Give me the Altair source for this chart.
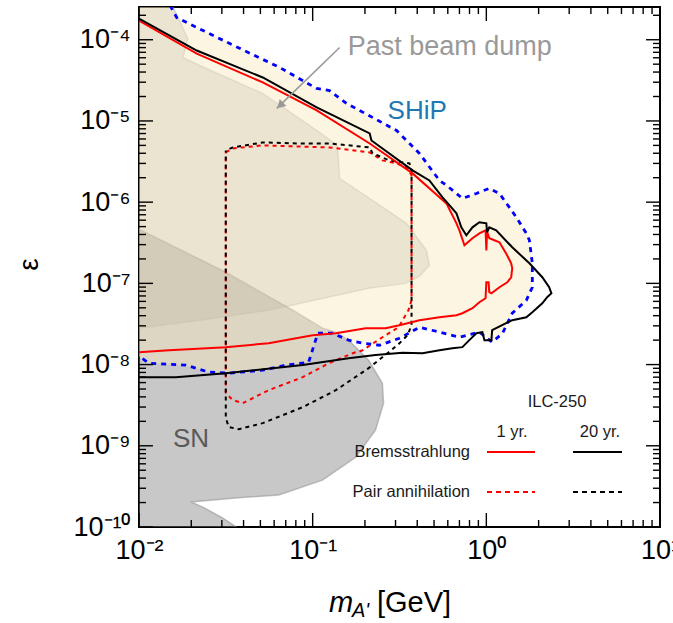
import altair as alt
import pandas as pd

FONT = "Liberation Sans"
W, H = 521, 520

X_DOMAIN = [0.01, 10.0]
Y_DOMAIN = [1e-10, 2.53e-4]

# ---------------- data (m in GeV, epsilon) ----------------
# SN 1987A excluded region (closed polygon)
sn_m = [0.0095, 0.0316, 0.0768, 0.114, 0.136, 0.161, 0.210, 0.252, 0.256, 0.230, 0.177,
        0.114, 0.0638, 0.0361, 0.0199, 0.0233, 0.0304, 0.041, 0.009]
sn_eps = [4.9e-7, 1.37e-7, 4.67e-8, 2.81e-8, 2.51e-8, 2.0e-8, 1.13e-8, 5.9e-9, 3.35e-9, 1.56e-9,
          7.26e-10, 3.78e-10, 2.48e-10, 2.28e-10, 2.03e-10, 1.76e-10, 1.29e-10, 8.4e-11, 8.4e-11]

# Past beam dump excluded region (closed polygon)
bd_m = [0.0155, 0.0191, 0.0179, 0.0224, 0.0516, 0.1055, 0.139, 0.143, 0.221, 0.347, 0.452,
        0.470, 0.412, 0.342, 0.210, 0.0558, 0.0224, 0.0100, 0.009, 0.009]
bd_eps = [2.7e-4, 1.03e-4, 6.04e-5, 4.82e-5, 2.18e-5, 7.64e-6, 5.0e-6, 1.96e-6, 1.05e-6, 5.48e-7,
          2.55e-7, 1.67e-7, 1.22e-7, 1.0e-7, 8.71e-8, 4.67e-8, 3.52e-8, 2.81e-8, 2.75e-8, 3e-4]

# SHiP sensitivity contour
ship_m = [0.0151, 0.0165, 0.0333, 0.0646, 0.1055, 0.125, 0.157, 0.304, 0.412, 0.537, 0.589,
          0.673, 0.728, 0.877, 1.04, 1.19, 1.49, 1.70, 1.77, 1.84, 1.84, 1.70, 1.41, 1.24,
          1.08, 0.912, 0.700, 0.537, 0.412, 0.316, 0.243, 0.194, 0.161, 0.130, 0.107, 0.0948,
          0.0700, 0.0516, 0.0329, 0.0253, 0.0186, 0.0114, 0.0100]
ship_eps = [2.64e-4, 1.87e-4, 8.97e-5, 4.55e-5, 2.51e-5, 2.37e-5, 1.64e-5, 7.64e-6, 3.98e-6,
            1.85e-6, 1.61e-6, 1.28e-6, 1.11e-6, 1.28e-6, 1.48e-6, 1.28e-6, 6.5e-7, 4.13e-7,
            3.39e-7, 1.77e-7, 8.96e-8, 6.19e-8, 4.29e-8, 2.43e-8, 1.89e-8, 2.51e-8, 2.17e-8,
            2.51e-8, 2.88e-8, 2.11e-8, 1.73e-8, 1.83e-8, 2.0e-8, 2.43e-8, 2.43e-8, 1.07e-8,
            9.84e-9, 8.53e-9, 7.83e-9, 8.07e-9, 9.84e-9, 1.04e-8, 1.27e-8]
# extra corner points closing the SHiP fill outside the frame
ship_fill_m_extra = [0.009, 0.009]
ship_fill_eps_extra = [1.35e-8, 3e-4]

# ILC-250 Bremsstrahlung, 1 yr (red solid)
br1_m = [0.0100, 0.0215, 0.0516, 0.1055, 0.213, 0.376, 0.537, 0.589, 0.673, 0.700, 0.748,
         0.832, 0.912, 0.99, 1.00, 1.01, 1.04, 1.19, 1.30, 1.39, 1.41, 1.39, 1.32, 1.19, 1.07,
         1.04, 1.03, 1.00, 0.99, 0.912, 0.832, 0.728, 0.673, 0.537, 0.412, 0.316, 0.263, 0.202,
         0.136, 0.100, 0.0558, 0.0316, 0.0149, 0.0100]
br1_eps = [1.72e-4, 6.76e-5, 2.98e-5, 1.35e-5, 5.28e-6, 2.26e-6, 1.15e-6, 9.66e-7, 5.48e-7,
           4.5e-7, 2.94e-7, 3.59e-7, 4.13e-7, 4.5e-7, 2.55e-7, 4.3e-7, 3.59e-7, 3.21e-7, 2.34e-7,
           1.77e-7, 1.53e-7, 1.19e-7, 1.03e-7, 8.96e-8, 7.55e-8, 7.8e-8, 1.03e-7, 1.03e-7, 6.56e-8,
           5.86e-8, 4.94e-8, 4.29e-8, 4.06e-8, 3.83e-8, 3.52e-8, 3.05e-8, 2.81e-8, 2.81e-8,
           2.43e-8, 2.3e-8, 1.83e-8, 1.64e-8, 1.5e-8, 1.42e-8]

# ILC-250 Bremsstrahlung, 20 yr (black solid)
br20_m = [0.0100, 0.0215, 0.0516, 0.1055, 0.213, 0.218, 0.376, 0.470, 0.558, 0.673, 0.718,
          0.767, 0.832, 0.912, 1.00, 1.01, 1.04, 1.14, 1.41, 1.77, 2.10, 2.30, 2.37, 2.24, 2.10,
          1.84, 1.70, 1.41, 1.30, 1.08, 1.07, 0.975, 0.949, 0.877, 0.798, 0.728, 0.638, 0.537,
          0.429, 0.329, 0.230, 0.161, 0.0877, 0.0316, 0.0163, 0.0100]
br20_eps = [1.82e-4, 7.36e-5, 3.43e-5, 1.47e-5, 7.02e-6, 5.75e-6, 2.46e-6, 1.85e-6, 1.15e-6,
            7.28e-7, 4.9e-7, 3.91e-7, 4.9e-7, 5.65e-7, 5.48e-7, 4.26e-7, 4.9e-7, 4.5e-7, 2.78e-7,
            1.77e-7, 1.19e-7, 8.96e-8, 7.55e-8, 6.75e-8, 5.69e-8, 4.42e-8, 3.83e-8, 3.52e-8,
            3.23e-8, 2.65e-8, 2.0e-8, 2.0e-8, 2.51e-8, 2.43e-8, 2.0e-8, 1.64e-8, 1.59e-8, 1.5e-8,
            1.38e-8, 1.4e-8, 1.31e-8, 1.2e-8, 9.9e-9, 7.83e-9, 7.0e-9, 7.0e-9]

# ILC-250 pair annihilation, 1 yr (red dashed)
pa1_m = [0.0316, 0.0347, 0.0516, 0.125, 0.213, 0.252, 0.304, 0.347, 0.371, 0.371, 0.356, 0.312,
         0.252, 0.194, 0.170, 0.124, 0.0877, 0.0558, 0.0396, 0.0347, 0.0316, 0.0316]
pa1_eps = [4.1e-6, 4.59e-6, 5.0e-6, 4.72e-6, 4.1e-6, 3.27e-6, 3.0e-6, 2.68e-6, 2.14e-6, 6.19e-8,
           4.67e-8, 2.88e-8, 2.17e-8, 1.5e-8, 1.38e-8, 1.04e-8, 7.0e-9, 4.84e-9, 3.35e-9,
           3.65e-9, 4.45e-9, 4.1e-6]

# ILC-250 pair annihilation, 20 yr (black dashed)
pa20_m = [0.0316, 0.0347, 0.0516, 0.0809, 0.125, 0.213, 0.221, 0.277, 0.361, 0.371, 0.371,
          0.352, 0.316, 0.274, 0.210, 0.136, 0.0877, 0.0516, 0.0376, 0.0329, 0.0316, 0.0316]
pa20_eps = [4.34e-6, 4.72e-6, 5.44e-6, 5.28e-6, 5.28e-6, 4.72e-6, 3.98e-6, 3.27e-6, 3.0e-6,
            2.46e-6, 3.05e-8, 2.3e-8, 1.83e-8, 1.42e-8, 9.04e-9, 4.84e-9, 2.99e-9, 1.9e-9,
            1.6e-9, 1.7e-9, 2.19e-9, 4.34e-6]

# annotation arrow for "Past beam dump"
arrow_m = [0.143, 0.0621]
arrow_eps = [8.02e-5, 1.43e-5]
arrow_head_m = [0.0658]
arrow_head_eps = [1.60e-5]

# region labels
label_text = ["Past beam dump", "SHiP", "SN"]
label_m = [0.159, 0.270, 0.0157]
label_eps = [6.4e-5, 1.07e-5, 9.64e-10]

# axis tick values
x_major = [0.01, 0.1, 1.0, 10.0]
x_minor = [k * 10.0 ** e for e in (-2, -1, 0) for k in range(2, 10)]
y_major = [10.0 ** e for e in range(-10, -3)]
y_minor = [k * 10.0 ** e for e in range(-10, -4) for k in range(2, 10)] + [2e-4]

# ---------------- helpers ----------------
xs = alt.Scale(type="log", domain=X_DOMAIN, nice=False)
ys = alt.Scale(type="log", domain=Y_DOMAIN, nice=False)

SUP = str.maketrans("-0123456789", "\u207b\u2070\u00b9\u00b2\u00b3\u2074\u2075\u2076\u2077\u2078\u2079")


def sup_expr(exps):
    expr = "''"
    for e in exps:
        expr = f"round(log(datum.value)/LN10) == {e} ? '10{str(e).translate(SUP)}' : " + expr
    return expr


XAX = alt.Axis(values=x_major, labelExpr=sup_expr([-2, -1, 0, 1]), ticks=False, domain=False,
               grid=False, title=None, labelFont=FONT, labelFontSize=27, labelColor="black",
               labelPadding=10, labelFlush=False, labelOverlap=False)
YAX = alt.Axis(values=y_major, labelExpr=sup_expr(list(range(-10, -3))), ticks=False,
               domain=False, grid=False, title="\u03b5", titleFont=FONT, titleFontSize=28,
               titleFontWeight="normal", titleColor="black", titleX=-102, titleY=257,
               titleAngle=270, titleAlign="center", titleBaseline="alphabetic", labelFont=FONT,
               labelFontSize=27, labelColor="black", labelPadding=9, labelFlush=False,
               labelOverlap=False)


def X(field):
    return alt.X(field, scale=xs, axis=XAX)


def Y(field):
    return alt.Y(field, scale=ys, axis=YAX)


def frame(ms, es):
    return pd.DataFrame({"m": ms, "eps": es, "i": list(range(len(ms)))})


def path(ms, es, **mark):
    return alt.Chart(frame(ms, es)).mark_line(clip=True, **mark).encode(
        x=X("m:Q"), y=Y("eps:Q"), order=alt.Order("i:Q"))


layers = []

# filled regions
layers.append(path(sn_m, sn_eps, interpolate="linear-closed", fill="#808080", fillOpacity=0.43,
                   stroke="#8a8a8a", strokeOpacity=0.5, strokeWidth=1.5))
layers.append(path(bd_m, bd_eps, interpolate="linear-closed", fill="#808080", fillOpacity=0.24,
                   stroke="#9a9a9a", strokeOpacity=0.35, strokeWidth=1.5))
layers.append(path(ship_m + ship_fill_m_extra, ship_eps + ship_fill_eps_extra,
                   interpolate="linear-closed", fill="#f5e8b9", fillOpacity=0.43,
                   strokeOpacity=0))

# contour lines
layers.append(path(ship_m, ship_eps, color="#0000ff", strokeWidth=2.8, strokeDash=[5, 5]))
layers.append(path(pa1_m, pa1_eps, color="#ff0000", strokeWidth=2, strokeDash=[4, 4]))
layers.append(path(pa20_m, pa20_eps, color="#000000", strokeWidth=2, strokeDash=[4, 4],
                   strokeDashOffset=4))
layers.append(path(br1_m, br1_eps, color="#ff0000", strokeWidth=2))
layers.append(path(br20_m, br20_eps, color="#000000", strokeWidth=2))

# arrow
layers.append(path(arrow_m, arrow_eps, color="#9a9a9a", strokeWidth=1.6))
layers.append(alt.Chart(frame(arrow_head_m, arrow_head_eps)).mark_point(
    shape="triangle", angle=226, size=90, filled=True, color="#9a9a9a", opacity=1).encode(
    x=X("m:Q"), y=Y("eps:Q")))

# region labels
label_colors = ["#999999", "#1f78b4", "#595959"]
label_sizes = [27, 26, 26]
for t, m, e, c, s in zip(label_text, label_m, label_eps, label_colors, label_sizes):
    layers.append(alt.Chart(pd.DataFrame({"m": [m], "eps": [e], "t": [t]})).mark_text(
        align="left", baseline="alphabetic", font=FONT, fontSize=s, color=c).encode(
        x=X("m:Q"), y=Y("eps:Q"), text="t:N"))

# in-plot legend (ILC-250)
one = pd.DataFrame({"a": [0]})


def ltext(txt, x, y, align, size=16.5, style="normal"):
    return alt.Chart(one).mark_text(align=align, baseline="middle", font=FONT, fontSize=size,
                                    color="#1a1a1a", fontStyle=style).encode(
        x=alt.value(x), y=alt.value(y), text=alt.value(txt))


def lrule(x1, x2, y, color, dash=None):
    kw = dict(color=color, strokeWidth=2)
    if dash:
        kw["strokeDash"] = dash
    return alt.Chart(one).mark_rule(**kw).encode(x=alt.value(x1), x2=alt.value(x2),
                                                 y=alt.value(y))


layers += [
    ltext("ILC-250", 418, 395, "center"),
    ltext("1 yr.", 373, 425, "center"),
    ltext("20 yr.", 461, 425, "center"),
    ltext("Bremsstrahlung", 331, 445, "right"),
    ltext("Pair annihilation", 331, 485, "right"),
    lrule(348, 396, 445, "#ff0000"),
    lrule(434, 483, 445, "#000000"),
    lrule(348, 396, 485, "#ff0000", [5, 4]),
    lrule(434, 483, 485, "#000000", [5, 4]),
]

# x-axis title built from pieces (italic m with subscript A')
layers += [
    alt.Chart(one).mark_text(align="left", baseline="alphabetic", font=FONT, fontSize=29,
                             fontStyle="italic", color="black").encode(
        x=alt.value(190), y=alt.value(605), text=alt.value("m")),
    alt.Chart(one).mark_text(align="left", baseline="alphabetic", font=FONT, fontSize=20,
                             fontStyle="italic", color="black").encode(
        x=alt.value(213), y=alt.value(610), text=alt.value("A'")),
    alt.Chart(one).mark_text(align="left", baseline="alphabetic", font=FONT, fontSize=29,
                             color="black").encode(
        x=alt.value(238), y=alt.value(605), text=alt.value("[GeV]")),
]


# inward ticks on all four sides
def xticks(vals, L):
    df = pd.DataFrame({"v": vals})
    out = []
    for y1, y2 in ((H, H - L), (0, L)):
        out.append(alt.Chart(df).mark_rule(color="black", strokeWidth=1.4).encode(
            x=X("v:Q"), y=alt.value(y1), y2=alt.value(y2)))
    return out


def yticks(vals, L):
    df = pd.DataFrame({"v": vals})
    out = []
    for x1, x2 in ((0, L), (W, W - L)):
        out.append(alt.Chart(df).mark_rule(color="black", strokeWidth=1.4).encode(
            y=Y("v:Q"), x=alt.value(x1), x2=alt.value(x2)))
    return out


layers += xticks(x_major, 14) + xticks(x_minor, 7) + yticks(y_major, 14) + yticks(y_minor, 7)

chart = alt.layer(*layers).properties(
    width=W, height=H,
    autosize=alt.AutoSizeParams(type="none"),
    padding={"left": 139, "top": 7, "right": 13, "bottom": 96},
    background="white",
).configure_view(stroke="black", strokeWidth=2)

chart.save("out.html", embed_options={"renderer": "svg", "actions": False})
